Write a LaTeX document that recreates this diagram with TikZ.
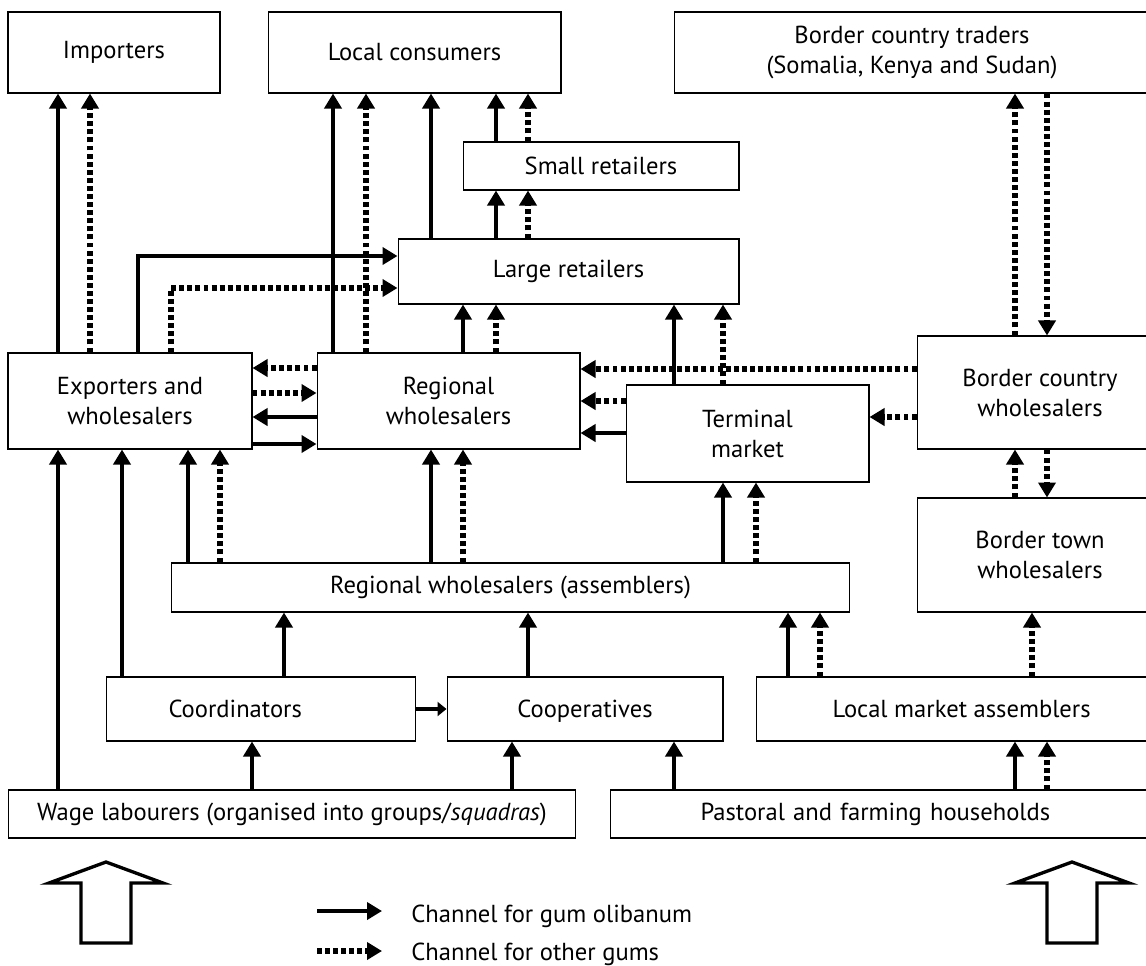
\documentclass[tikz,border=0pt]{standalone}
\usepackage{fontspec}
\setmainfont{PT Sans}
\usetikzlibrary{arrows.meta,positioning,calc}
\tikzset{
  tradebox/.style={draw, line width=0.6pt, align=center, inner sep=0pt,
    font=\fontsize{14}{17}\selectfont},
  olibarrow/.style={-{Triangle[length=0.3cm,width=0.34cm]}, line width=2.4pt},
  gumarrow/.style={olibarrow, line width=3.1pt, dash pattern=on 2.8pt off 1.8pt},
  bigarrow/.style={line width=1.9pt, line join=miter}
}

\begin{document}
\begin{tikzpicture}[x=0.02cm, y=-0.02cm]
    \useasboundingbox (0,0) rectangle (1146,965);
    % top row
    \node[tradebox, minimum width=4.24cm, minimum height=1.62cm] (imp) at (114,52.5) {Importers};
    \node[tradebox, minimum width=5.86cm, minimum height=1.62cm] (cons) at (414.5,52.5) {Local consumers};
    \node[tradebox, minimum width=9.52cm, minimum height=1.62cm] (bct) at (912,52.5) {Border country traders\\(Somalia, Kenya and Sudan)};
    \node[tradebox, minimum width=5.52cm, minimum height=0.96cm] (small) at (601,166) {Small retailers};
    \node[tradebox, minimum width=6.82cm, minimum height=1.30cm] (large) at (568.5,271.5) {Large retailers};
    % wholesalers
    \node[tradebox, minimum width=4.88cm, minimum height=1.92cm] (exp) at (130,401) {Exporters and\\wholesalers};
    \node[tradebox, minimum width=5.26cm, minimum height=1.92cm] (reg) at (448.5,401) {Regional\\wholesalers};
    \node[tradebox, minimum width=4.86cm, minimum height=1.94cm] (term) at (747.5,433.5) {Terminal\\market};
    \node[tradebox, minimum width=4.92cm, minimum height=2.26cm] (bcw) at (1040,392.5) {Border country\\wholesalers};
    \node[tradebox, minimum width=4.92cm, minimum height=2.28cm] (btw) at (1040,555) {Border town\\wholesalers};
    \node[tradebox, minimum width=13.58cm, minimum height=0.98cm] (rwa) at (510.5,587.5) {Regional wholesalers (assemblers)};
    % producers
    \node[tradebox, anchor=west, inner xsep=1.24cm, text width=3.7cm, align=left, minimum height=1.28cm] (coord) at (106,709) {Coordinators};
    \node[tradebox, minimum width=5.52cm, minimum height=1.28cm, text depth=0pt] (coop) at (585,709) {Cooperatives};
    \node[tradebox, minimum width=8.22cm, minimum height=1.28cm] (lma) at (961.7,709) {Local market assemblers};
    \node[tradebox, minimum width=11.36cm, minimum height=0.96cm] (wage) at (292,814) {Wage labourers (organised into groups/\textit{squadras})};
    \node[tradebox, anchor=west, inner xsep=1.8cm, text width=7.4cm, align=left, minimum height=0.96cm] (past) at (610,814) {Pastoral and farming households};

    % channels to the top
    \draw[olibarrow] (58,0 |- exp.north) -- (58,0 |- imp.south);
    \draw[gumarrow] (90,0 |- exp.north) -- (90,0 |- imp.south);
    \draw[olibarrow] (333,0 |- reg.north) -- (333,0 |- cons.south);
    \draw[gumarrow] (366,0 |- reg.north) -- (366,0 |- cons.south);
    \draw[olibarrow] (138,0 |- exp.north) |- (large.west |- 0,256);
    \draw[gumarrow] (171,0 |- exp.north) |- (large.west |- 0,288);
    \draw[olibarrow] (431,0 |- large.north) -- (431,0 |- cons.south);
    \draw[olibarrow] (496,0 |- small.north) -- (496,0 |- cons.south);
    \draw[gumarrow] (528,0 |- small.north) -- (528,0 |- cons.south);
    \draw[olibarrow] (496,0 |- large.north) -- (496,0 |- small.south);
    \draw[gumarrow] (528,0 |- large.north) -- (528,0 |- small.south);
    \draw[olibarrow] (463,0 |- reg.north) -- (463,0 |- large.south);
    \draw[gumarrow] (496,0 |- reg.north) -- (496,0 |- large.south);
    \draw[olibarrow] (674,0 |- term.north) -- (674,0 |- large.south);
    \draw[gumarrow] (723,0 |- term.north) -- (723,0 |- large.south);
    \draw[gumarrow] (1015,0 |- bcw.north) -- (1015,0 |- bct.south);
    \draw[gumarrow] (1047,0 |- bct.south) -- (1047,0 |- bcw.north);

    % between wholesalers
    \draw[gumarrow] (bcw.west |- 0,369) -- (reg.east |- 0,369);
    \draw[gumarrow] (bcw.west |- 0,417) -- (term.east |- 0,417);
    \draw[gumarrow] (term.west |- 0,401) -- (reg.east |- 0,401);
    \draw[olibarrow] (term.west |- 0,433) -- (reg.east |- 0,433);
    \draw[gumarrow] (reg.west |- 0,368) -- (exp.east |- 0,368);
    \draw[gumarrow] (exp.east |- 0,393) -- (reg.west |- 0,393);
    \draw[olibarrow] (reg.west |- 0,417) -- (exp.east |- 0,417);
    \draw[olibarrow] (exp.east |- 0,444) -- (reg.west |- 0,444);

    % channels from the bottom
    \draw[olibarrow] (58,0 |- wage.north) -- (58,0 |- exp.south);
    \draw[olibarrow] (122,0 |- coord.north) -- (122,0 |- exp.south);
    \draw[olibarrow] (188,0 |- rwa.north) -- (188,0 |- exp.south);
    \draw[gumarrow] (220,0 |- rwa.north) -- (220,0 |- exp.south);
    \draw[olibarrow] (431,0 |- rwa.north) -- (431,0 |- reg.south);
    \draw[gumarrow] (463,0 |- rwa.north) -- (463,0 |- reg.south);
    \draw[olibarrow] (723,0 |- rwa.north) -- (723,0 |- term.south);
    \draw[gumarrow] (756,0 |- rwa.north) -- (756,0 |- term.south);
    \draw[olibarrow] (284,0 |- coord.north) -- (284,0 |- rwa.south);
    \draw[olibarrow] (528,0 |- coop.north) -- (528,0 |- rwa.south);
    \draw[olibarrow] (788,0 |- lma.north) -- (788,0 |- rwa.south);
    \draw[gumarrow] (820,0 |- lma.north) -- (820,0 |- rwa.south);
    \draw[gumarrow] (1032,0 |- lma.north) -- (1032,0 |- btw.south);
    \draw[gumarrow] (1015,0 |- btw.north) -- (1015,0 |- bcw.south);
    \draw[gumarrow] (1047,0 |- bcw.south) -- (1047,0 |- btw.north);
    \draw[olibarrow, -{Triangle[length=0.18cm,width=0.28cm]}] (coord.east) -- (coop.west);
    \draw[olibarrow] (252,0 |- wage.north) -- (252,0 |- coord.south);
    \draw[olibarrow] (512,0 |- wage.north) -- (512,0 |- coop.south);
    \draw[olibarrow] (674,0 |- past.north) -- (674,0 |- coop.south);
    \draw[olibarrow] (1015,0 |- past.north) -- (1015,0 |- lma.south);
    \draw[gumarrow] (1047,0 |- past.north) -- (1047,0 |- lma.south);

    % open arrows
    \draw[bigarrow] (106,862) -- (163,883) -- (131,883) -- (131,943) -- (81,943) -- (81,883) -- (49,883) -- cycle;
    \draw[bigarrow] (1072,862) -- (1129,883) -- (1097,883) -- (1097,943) -- (1047,943) -- (1047,883) -- (1015,883) -- cycle;

    % legend
    \coordinate (olibstart) at (317,911);
    \coordinate (olibend) at (382,911);
    \coordinate (gumstart) at (317,951);
    \coordinate (gumend) at (382,951);
    \draw[olibarrow] (olibstart) -- (olibend);
    \draw[gumarrow] (gumstart) -- (gumend);
    \node[anchor=base west, inner sep=0pt, font=\fontsize{14}{17}\selectfont] (olibtext) at (411,922) {Channel for gum olibanum};
    \node[anchor=base west, inner sep=0pt, font=\fontsize{14}{17}\selectfont] (gumtext) at (411,960) {Channel for other gums};
  \end{tikzpicture}
\end{document}
